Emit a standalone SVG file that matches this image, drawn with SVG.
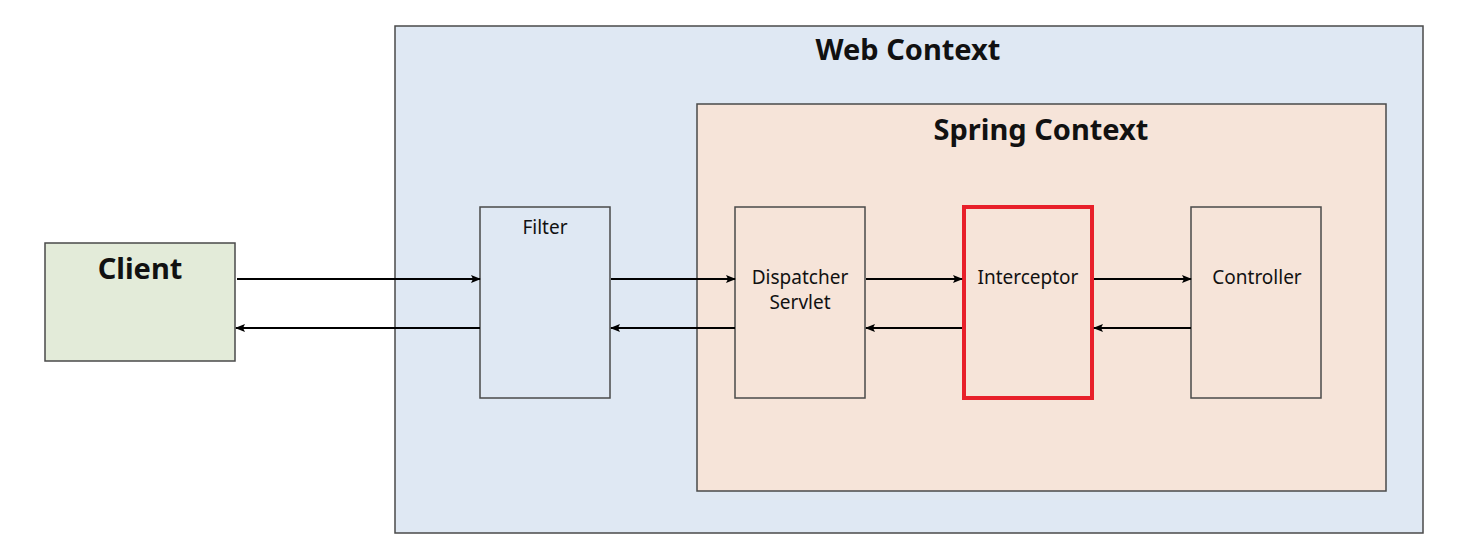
<svg xmlns="http://www.w3.org/2000/svg" width="1457" height="554" viewBox="0 0 1457 554">
<defs>
<marker id="ah" markerWidth="10" markerHeight="8" refX="9" refY="4" orient="auto" markerUnits="userSpaceOnUse">
<path d="M0,0 L10,4 L0,8 L2,4 Z" fill="#000"/>
</marker>
<style>
.box{stroke:#4a4a4a;stroke-width:1.5}
.t{font-family:"Noto Sans","Open Sans","DejaVu Sans",sans-serif;fill:#111;text-anchor:middle}
.b{font-weight:bold}
.c{stroke:#000;stroke-width:2;fill:none;marker-end:url(#ah)}
</style>
</defs>
<rect width="1457" height="554" fill="#fff"/>
<g id="web-context">
<rect class="box" x="395" y="26" width="1028" height="507" fill="#dfe8f3"/>
<text class="t b" x="908" y="60" font-size="29">Web Context</text>
</g>
<g id="spring-context">
<rect class="box" x="697" y="104" width="689" height="387" fill="#f6e4d9"/>
<text class="t b" x="1041" y="140" font-size="29">Spring Context</text>
</g>
<g id="client">
<rect class="box" x="45" y="243" width="190" height="118" fill="#e3ebd9"/>
<text class="t b" x="140" y="279" font-size="29">Client</text>
</g>
<g id="filter">
<rect class="box" x="480" y="207" width="130" height="191" fill="#dfe8f3"/>
<text class="t" x="545" y="234" font-size="19">Filter</text>
</g>
<g id="dispatcher-servlet">
<rect class="box" x="735" y="207" width="130" height="191" fill="#f6e4d9"/>
<text class="t" x="800" y="284" font-size="19">Dispatcher</text>
<text class="t" x="800" y="309" font-size="19">Servlet</text>
</g>
<g id="interceptor">
<rect x="964" y="207" width="128" height="191" fill="#f6e4d9" stroke="#e8202a" stroke-width="4"/>
<text class="t" x="1028" y="284" font-size="19">Interceptor</text>
</g>
<g id="controller">
<rect class="box" x="1191" y="207" width="130" height="191" fill="#f6e4d9"/>
<text class="t" x="1257" y="284" font-size="19">Controller</text>
</g>
<g id="connectors">
<line class="c" x1="237" y1="279" x2="480" y2="279"/>
<line class="c" x1="480" y1="328" x2="236" y2="328"/>
<line class="c" x1="611" y1="279" x2="735" y2="279"/>
<line class="c" x1="735" y1="328" x2="611" y2="328"/>
<line class="c" x1="866" y1="279" x2="962" y2="279"/>
<line class="c" x1="962" y1="328" x2="866" y2="328"/>
<line class="c" x1="1094" y1="279" x2="1191" y2="279"/>
<line class="c" x1="1191" y1="328" x2="1094" y2="328"/>
</g>
</svg>
